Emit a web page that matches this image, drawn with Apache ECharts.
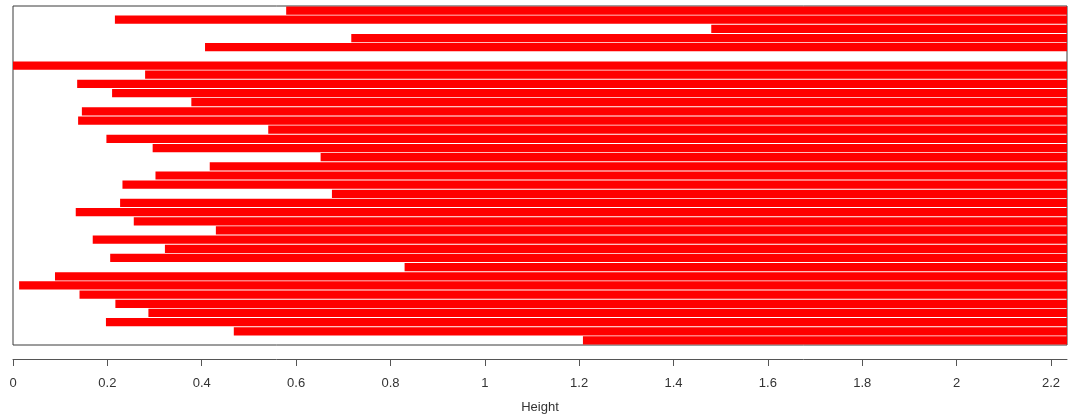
<!DOCTYPE html>
<html>
<head>
<meta charset="utf-8">
<script src="https://cdn.jsdelivr.net/npm/echarts@6/dist/echarts.min.js"></script>
<style>
  html, body { margin: 0; padding: 0; background: #ffffff; }
  #chart { width: 1069px; height: 419px; }
</style>
</head>
<body>
<div id="chart"></div>
<script>
// Banner rows, top to bottom: each band starts at its merge height and runs to the top height.
const rowIds = Array.from({ length: 37 }, (_, i) => String(i + 1));
const mergeHeights = [
  0.579, 0.216, 1.480, 0.717, 0.407, 2.234, 0.000, 0.280, 0.136, 0.210,
  0.378, 0.146, 0.138, 0.541, 0.198, 0.296, 0.652, 0.417, 0.302, 0.232,
  0.676, 0.227, 0.133, 0.256, 0.430, 0.169, 0.322, 0.206, 0.830, 0.089,
  0.013, 0.141, 0.217, 0.287, 0.197, 0.468, 1.208
];
const heightMax = 2.234;
const tickStep = 0.2;
const axisTitle = 'Height';

const bandLengths = mergeHeights.map(h => +(heightMax - h).toFixed(3));

const chart = echarts.init(document.getElementById('chart'), null, { renderer: 'canvas' });
chart.setOption({
  animation: false,
  backgroundColor: '#ffffff',
  grid: {
    left: 13, right: 2, top: 6, bottom: 73,
    show: true,
    borderColor: '#3a3a3a',
    borderWidth: 1,
    backgroundColor: 'transparent'
  },
  xAxis: {
    type: 'value',
    min: 0,
    max: heightMax,
    interval: tickStep,
    offset: 14,
    name: axisTitle,
    nameLocation: 'middle',
    nameGap: 42,
    nameTextStyle: { color: '#333333', fontSize: 13, fontFamily: 'Liberation Sans, Arial, sans-serif' },
    axisLine: { show: true, lineStyle: { color: '#555555', width: 1 } },
    axisTick: { show: true, inside: false, length: 7, lineStyle: { color: '#555555', width: 1 } },
    axisLabel: {
      color: '#333333', fontSize: 13, margin: 18,
      fontFamily: 'Liberation Sans, Arial, sans-serif',
      showMaxLabel: false,
      formatter: v => String(+v.toFixed(1))
    },
    splitLine: { show: false }
  },
  yAxis: {
    type: 'category',
    data: rowIds,
    inverse: true,
    show: false,
    boundaryGap: true
  },
  series: [
    {
      type: 'bar',
      stack: 'banner',
      data: mergeHeights,
      itemStyle: { color: 'transparent' },
      barCategoryGap: '10%',
      silent: true
    },
    {
      type: 'bar',
      stack: 'banner',
      data: bandLengths,
      itemStyle: { color: '#ff0000' },
      barCategoryGap: '10%'
    }
  ]
});
</script>
</body>
</html>
